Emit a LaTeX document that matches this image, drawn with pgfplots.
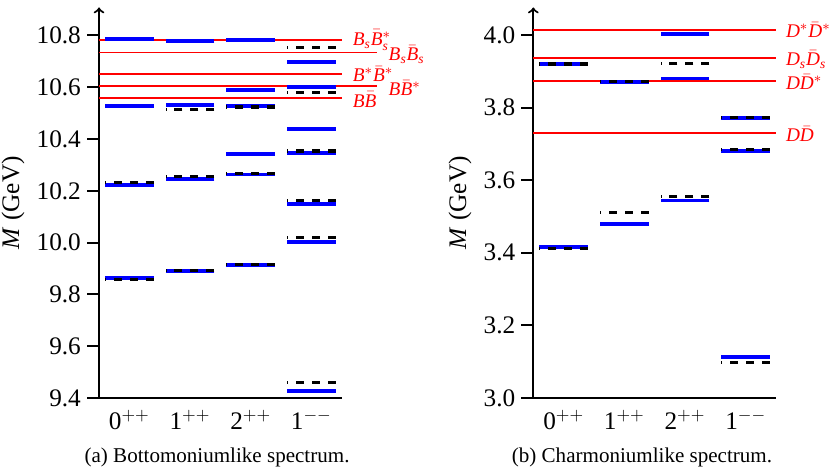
\documentclass[border=0pt]{standalone}
\usepackage{fontspec}
\setmainfont{Liberation Serif}
\usepackage{pgfplots}
\pgfplotsset{compat=1.18}
\usepackage{pgfplotstable}

% Bottomonium-like levels
\pgfplotstableread{
x y
0 10.785
0 10.529
0 10.222
0 9.864
1 10.779
1 10.532
1 10.245
1 9.891
2 10.783
2 10.588
2 10.527
2 10.341
2 10.263
2 9.913
3 10.697
3 10.600
3 10.439
3 10.345
3 10.148
3 10.004
3 9.427
}\bblue
\pgfplotstableread{
x y
0 10.232
0 9.859
1 10.515
1 10.254
1 9.893
2 10.524
2 10.268
2 9.914
3 10.754
3 10.579
3 10.354
3 10.162
3 10.021
3 9.460
}\bblack
% Charmonium-like levels
\pgfplotstableread{
x y
0 3.919
0 3.417
1 3.871
1 3.479
2 4.003
2 3.880
2 3.544
3 3.771
3 3.680
3 3.114
}\cblue
\pgfplotstableread{
x y
0 3.920
0 3.413
1 3.871
1 3.511
2 3.922
2 3.555
3 3.773
3 3.685
3 3.098
}\cblack

\newcommand{\mB}{\mathit{B}}
\newcommand{\mD}{\mathit{D}}
\newcommand{\ms}{\mathit{s}}

\tikzset{lab/.style={red, anchor=west, inner sep=0pt, font=\fontsize{11}{13}\selectfont}}

\pgfplotsset{
  spec/.style={
    scale only axis, width=138.3pt, height=222.6pt, anchor=south west,
    xmin=-0.5, xmax=3.5,
    axis x line=bottom, axis y line=left,
    axis line style={line width=1.2pt, black},
    x axis line style={-}, y axis line style={->},
    xtick={0,1,2,3},
    xticklabels={$\mathrm{0}^{++}$,$\mathrm{1}^{++}$,$\mathrm{2}^{++}$,$\mathrm{1}^{--}$},
    xtick style={draw=none},
    xticklabel style={yshift=3.5pt},
    tick align=outside, major tick length=6.8pt,
    ytick style={line width=1.2pt, black},
    tick label style={font=\Large},
    label style={font=\Large},
    yticklabel style={/pgf/number format/.cd, fixed, fixed zerofill, precision=1, assume math mode=true},
    ylabel={\textit{M} (GeV)},
    clip=false,
  },
  thr/.style={red, line width=1.1pt},
  lvblue/.style={only marks, mark=-, mark size=13.85pt, blue, mark options={line width=2.2pt, blue}},
  lvblack/.style={only marks, mark=-, mark size=13.85pt, black, mark options={line width=1.8pt, black, dash pattern=on 4.5pt off 4.6pt}},
}

\begin{document}
\begin{tikzpicture}
\begin{axis}[spec, at={(56.43pt,-226.86pt)},
  ymin=9.4, ymax=10.908,
  ytick={9.4,9.6,9.8,10.0,10.2,10.4,10.6,10.8}]
  \addplot[thr] coordinates {(-0.5,10.782) (3.5,10.782)};
  \addplot[thr] coordinates {(-0.5,10.734) (4.09,10.734)};
  \addplot[thr] coordinates {(-0.5,10.650) (3.5,10.650)};
  \addplot[thr] coordinates {(-0.5,10.604) (4.09,10.604)};
  \addplot[thr] coordinates {(-0.5,10.559) (3.5,10.559)};
  \addplot[lvblue] table {\bblue};
  \addplot[lvblack] table {\bblack};
  \node[lab] at (axis cs:3.68,10.782) {$\mB_\ms\bar{\mB}_\ms^{*}$};
  \node[lab] at (axis cs:4.27,10.726) {$\mB_\ms\bar{\mB}_\ms$};
  \node[lab] at (axis cs:3.68,10.650) {$\mB^{*}\bar{\mB}^{*}$};
  \node[lab] at (axis cs:4.27,10.598) {$\mB\bar{\mB}^{*}$};
  \node[lab] at (axis cs:3.68,10.552) {$\mB\bar{\mB}$};
\end{axis}
\begin{axis}[spec, at={(303.98pt,-226.86pt)},
  ymin=3.0, ymax=4.0757,
  ytick={3.0,3.2,3.4,3.6,3.8,4.0}]
  \addplot[thr] coordinates {(-0.5,4.014) (3.5,4.014)};
  \addplot[thr] coordinates {(-0.5,3.937) (3.5,3.937)};
  \addplot[thr] coordinates {(-0.5,3.872) (3.5,3.872)};
  \addplot[thr] coordinates {(-0.5,3.729) (3.5,3.729)};
  \addplot[lvblue] table {\cblue};
  \addplot[lvblack] table {\cblack};
  \node[lab] at (axis cs:3.66,4.014) {$\mD^{*}\bar{\mD}^{*}$};
  \node[lab] at (axis cs:3.66,3.933) {$\mD_\ms\bar{\mD}_\ms$};
  \node[lab] at (axis cs:3.66,3.870) {$\mD\bar{\mD}^{*}$};
  \node[lab] at (axis cs:3.66,3.727) {$\mD\bar{\mD}$};
\end{axis}
\node[font=\large] at (123.7pt,-260.5pt) {(a) Bottomoniumlike spectrum.};
\node[font=\large] at (365.9pt,-260.5pt) {(b) Charmoniumlike spectrum.};
\pgfresetboundingbox
\path[use as bounding box] (0pt,0pt) rectangle (472.5pt,-269.6pt);
\end{tikzpicture}
\end{document}
